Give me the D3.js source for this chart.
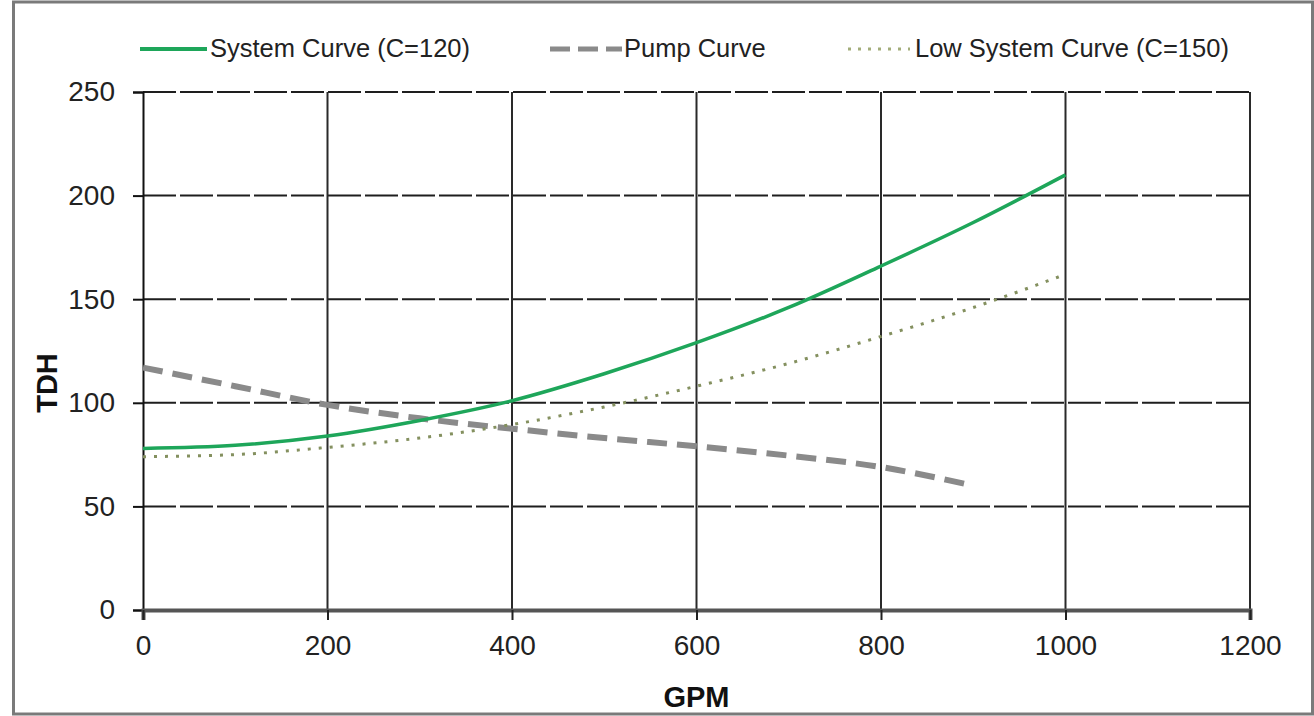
<!DOCTYPE html>
<html>
<head>
<meta charset="utf-8">
<script src="https://cdn.jsdelivr.net/npm/d3@7"></script>
<style>
  html, body { margin: 0; padding: 0; background: #fff; }
  svg { display: block; font-family: "Liberation Sans", Arial, sans-serif; }
</style>
</head>
<body>
<svg id="chart" width="1314" height="716"></svg>
<script>
// Flow (GPM) and head (TDH) readings for each curve
const systemFlow = [0, 100, 200, 300, 400, 500, 600, 700, 800, 900, 1000];
const systemHead = [78, 79.5, 84, 91.5, 101, 114, 129, 146, 166, 187, 210];

const lowSystemFlow = [0, 100, 200, 300, 400, 500, 600, 700, 800, 900, 1000];
const lowSystemHead = [74, 75, 78.5, 83, 89.5, 98, 108, 119, 132, 146, 162];

const pumpFlow = [0, 100, 200, 300, 400, 500, 600, 700, 800, 900];
const pumpHead = [117, 108, 99, 92.5, 87.5, 83, 79, 74.5, 69, 60];

const xTicks = [0, 200, 400, 600, 800, 1000, 1200];
const yTicks = [0, 50, 100, 150, 200, 250];

const seriesNames = ["System Curve (C=120)", "Pump Curve", "Low System Curve (C=150)"];

const svg = d3.select("#chart");
const W = 1314, H = 716;
const FONT = "Liberation Sans, Arial, sans-serif";

// outer frame
svg.append("rect")
  .attr("x", 13.5).attr("y", 2).attr("width", W - 15).attr("height", H - 4)
  .attr("fill", "#fff").attr("stroke", "#7a7a7a").attr("stroke-width", 3);

const x = d3.scaleLinear().domain([0, 1200]).range([143, 1250]);
const y = d3.scaleLinear().domain([0, 250]).range([610, 92]);

// horizontal gridlines (dashed)
svg.append("g").selectAll("line")
  .data(yTicks.filter(d => d > 0))
  .join("line")
  .attr("x1", x(0)).attr("x2", x(1200))
  .attr("y1", d => y(d)).attr("y2", d => y(d))
  .attr("stroke", "#1e1e1e").attr("stroke-width", 2)
  .attr("stroke-dasharray", "33,4");

// vertical gridlines
svg.append("g").selectAll("line")
  .data(xTicks.filter(d => d > 0))
  .join("line")
  .attr("x1", d => x(d)).attr("x2", d => x(d))
  .attr("y1", y(250)).attr("y2", y(0))
  .attr("stroke", "#2a2a2a").attr("stroke-width", 2);

// y axis
const yAxis = svg.append("g")
  .attr("transform", `translate(${x(0)},0)`)
  .call(d3.axisLeft(y).tickValues(yTicks).tickSize(10).tickPadding(18).tickFormat(d3.format("d")));
yAxis.select(".domain").attr("stroke", "#111").attr("stroke-width", 2);
yAxis.selectAll(".tick line").attr("stroke", "#111").attr("stroke-width", 2);
yAxis.selectAll(".tick text")
  .attr("font-size", 28).attr("fill", "#222").attr("font-family", FONT);

// x axis
const xAxis = svg.append("g")
  .attr("transform", `translate(0,${y(0)})`)
  .call(d3.axisBottom(x).tickValues(xTicks).tickSize(10).tickPadding(15).tickFormat(d3.format("d")));
xAxis.select(".domain").attr("stroke", "#555").attr("stroke-width", 4);
xAxis.selectAll(".tick line").attr("stroke", "#222").attr("stroke-width", 2);
xAxis.selectAll(".tick text")
  .attr("font-size", 28).attr("fill", "#222").attr("font-family", FONT);

// axis titles
svg.append("text")
  .attr("x", x(600)).attr("y", 707)
  .attr("text-anchor", "middle")
  .attr("font-size", 29).attr("font-weight", "bold").attr("fill", "#111")
  .text("GPM");

svg.append("text")
  .attr("transform", `translate(57,383) rotate(-90)`)
  .attr("text-anchor", "middle")
  .attr("font-size", 29).attr("font-weight", "bold").attr("fill", "#111")
  .text("TDH");

const line = d3.line().curve(d3.curveMonotoneX)
  .x(d => x(d[0])).y(d => y(d[1]));

const curves = svg.append("g");

// pump curve
curves.append("path")
  .datum(d3.zip(pumpFlow, pumpHead))
  .attr("d", line)
  .attr("fill", "none").attr("stroke", "#8a8a8a").attr("stroke-width", 6)
  .attr("stroke-dasharray", "20,10");

// low system curve
curves.append("path")
  .datum(d3.zip(lowSystemFlow, lowSystemHead))
  .attr("d", line)
  .attr("fill", "none").attr("stroke", "#84905f").attr("stroke-width", 3)
  .attr("stroke-dasharray", "3,8");

// system curve
curves.append("path")
  .datum(d3.zip(systemFlow, systemHead))
  .attr("d", line)
  .attr("fill", "none").attr("stroke", "#1ea65a").attr("stroke-width", 3.5);

// legend
const legend = svg.append("g").attr("font-size", 25.5).attr("fill", "#222").attr("font-family", FONT);
const ly = 49;

legend.append("line")
  .attr("x1", 140).attr("x2", 207).attr("y1", ly).attr("y2", ly)
  .attr("stroke", "#1ea65a").attr("stroke-width", 4);
legend.append("text").attr("x", 210).attr("y", ly + 8).text(seriesNames[0]);

legend.append("line")
  .attr("x1", 550).attr("x2", 622).attr("y1", ly).attr("y2", ly)
  .attr("stroke", "#8a8a8a").attr("stroke-width", 5)
  .attr("stroke-dasharray", "20,8");
legend.append("text").attr("x", 624).attr("y", ly + 8).text(seriesNames[1]);

legend.append("line")
  .attr("x1", 848).attr("x2", 910).attr("y1", ly).attr("y2", ly)
  .attr("stroke", "#a3ad7a").attr("stroke-width", 3)
  .attr("stroke-dasharray", "3,7");
legend.append("text").attr("x", 915).attr("y", ly + 8).text(seriesNames[2]);
</script>
</body>
</html>
